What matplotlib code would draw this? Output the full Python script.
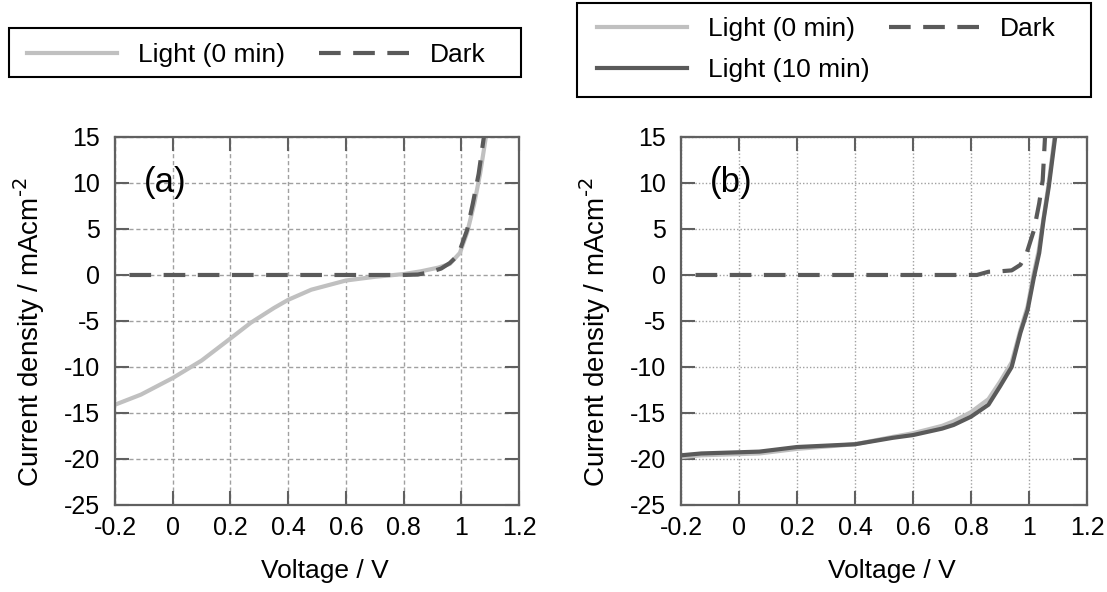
import matplotlib
matplotlib.use("Agg")
import matplotlib.pyplot as plt
from matplotlib.lines import Line2D
from matplotlib.patches import Rectangle

plt.rcParams['font.family'] = ['Liberation Sans', 'DejaVu Sans']
plt.rcParams['mathtext.default'] = 'regular'
plt.rcParams['axes.unicode_minus'] = False

# J-V curves, voltage in V, current density in mA/cm2
# panel (a)
v_a_light0 = [-0.2, -0.11, 0.0, 0.1, 0.2, 0.27, 0.35, 0.4, 0.48, 0.6, 0.7, 0.8,
              0.86, 0.92, 0.96, 0.995, 1.02, 1.045, 1.065, 1.085]
j_a_light0 = [-14.1, -13.0, -11.2, -9.3, -6.9, -5.2, -3.6, -2.7, -1.6, -0.6, -0.2, 0.1,
              0.4, 0.8, 1.2, 2.4, 4.6, 7.8, 11.0, 15.0]
v_a_dark = [-0.15, 0.0, 0.2, 0.4, 0.6, 0.8, 0.85, 0.89, 0.93, 0.96, 0.98, 0.995,
            1.02, 1.04, 1.06, 1.078]
j_a_dark = [0, 0, 0, 0, 0, 0, 0.05, 0.3, 0.7, 1.3, 1.9, 2.7,
            4.9, 7.8, 11.0, 15.0]

# panel (b)
v_b_light0 = [-0.2, -0.13, 0.07, 0.2, 0.4, 0.53, 0.6, 0.7, 0.74, 0.8, 0.86, 0.9,
              0.94, 0.97, 0.995, 1.015, 1.033, 1.05, 1.067, 1.088]
j_b_light0 = [-19.8, -19.6, -19.4, -18.9, -18.4, -17.6, -17.2, -16.4, -15.9, -14.9, -13.5, -11.6,
              -9.5, -6.0, -3.4, 0.0, 2.6, 6.2, 9.8, 15.0]
v_b_light10 = [-0.2, -0.13, 0.07, 0.2, 0.4, 0.53, 0.6, 0.7, 0.74, 0.8, 0.86, 0.9,
               0.94, 0.97, 0.995, 1.017, 1.035, 1.05, 1.068, 1.09]
j_b_light10 = [-19.6, -19.4, -19.2, -18.7, -18.4, -17.7, -17.4, -16.7, -16.3, -15.4, -14.1, -12.1,
               -10.0, -6.3, -3.8, -0.2, 2.4, 6.0, 9.6, 15.0]
v_b_dark = [-0.15, 0.0, 0.2, 0.4, 0.6, 0.82, 0.86, 0.9, 0.94, 0.97, 0.99, 1.017,
            1.035, 1.047, 1.055]
j_b_dark = [0, 0, 0, 0, 0, 0, 0.35, 0.4, 0.5, 1.1, 2.2, 4.9,
            7.8, 10.3, 15.0]

x_ticks = [-0.2, 0, 0.2, 0.4, 0.6, 0.8, 1, 1.2]
x_ticklabels = ['-0.2', '0', '0.2', '0.4', '0.6', '0.8', '1', '1.2']
y_ticks = [-25, -20, -15, -10, -5, 0, 5, 10, 15]

LIGHT = '#c0c0c0'
DARK = '#5a5a5a'
AXC = '#606060'
LW = 3.0
DASH = (5.2, 3.0)
W, H = 1107, 592

fig = plt.figure(figsize=(W / 100, H / 100), dpi=100)
ax_a = fig.add_axes([0.1039, 0.147, 0.365, 0.6216])
ax_b = fig.add_axes([0.6152, 0.147, 0.3668, 0.6216])


def style_axes(ax, grid_dashes, tag):
    ax.set_xlim(-0.2, 1.2)
    ax.set_ylim(-25, 15)
    ax.set_xticks(x_ticks)
    ax.set_xticklabels(x_ticklabels)
    ax.set_yticks(y_ticks)
    ax.tick_params(direction='in', length=10, width=1.5, color=AXC,
                   top=True, right=True, labelsize=18, pad=8)
    ax.tick_params(axis='y', pad=11)
    for s in ax.spines.values():
        s.set_color(AXC)
        s.set_linewidth(1.6)
    ax.grid(True, color='#a0a0a0', lw=1.0, dashes=grid_dashes)
    ax.set_axisbelow(True)
    ax.set_xlabel('Voltage / V', fontsize=19)
    ax.xaxis.set_label_coords(0.52, -0.148)
    ax.set_ylabel(r'Current density / mAcm$^{\text{-2}}$', fontsize=20)
    ax.yaxis.set_label_coords(-0.168, 0.47)
    ax.text(-0.1, 10, tag, fontsize=25, va='center', ha='left')


style_axes(ax_a, (3, 2), '(a)')
style_axes(ax_b, (1, 1.5), '(b)')

# panel (a)
ax_a.plot(v_a_light0, j_a_light0, color=LIGHT, lw=LW)
ax_a.plot(v_a_dark, j_a_dark, color=DARK, lw=LW, dashes=DASH)

# panel (b)
ax_b.plot(v_b_light0, j_b_light0, color=LIGHT, lw=LW)
ax_b.plot(v_b_light10, j_b_light10, color=DARK, lw=LW)
ax_b.plot(v_b_dark, j_b_dark, color=DARK, lw=LW, dashes=DASH)

h_l0 = Line2D([], [], color=LIGHT, lw=LW)
h_l10 = Line2D([], [], color=DARK, lw=LW)
h_d = Line2D([], [], color=DARK, lw=LW, dashes=DASH)

leg_kw = dict(fontsize=19, ncol=2, frameon=False, handlelength=3.4, handletextpad=0.8,
              labelspacing=0.64, borderpad=0, borderaxespad=0, loc='upper left')

fig.legend([h_l0, h_d], ['Light (0 min)', 'Dark'], columnspacing=1.3,
           bbox_to_anchor=(27 / W, 1 - 43 / H), **leg_kw)
fig.legend([h_l0, h_l10, h_d], ['Light (0 min)', 'Light (10 min)', 'Dark'],
           columnspacing=0.75, bbox_to_anchor=(597 / W, 1 - 17 / H), **leg_kw)

# legend boxes, pixel extents (x0, y0_top, x1, y1_bottom)
for x0, y0, x1, y1 in [(9, 28, 521, 77), (577, 3, 1091, 97)]:
    fig.patches.append(Rectangle((x0 / W, 1 - y1 / H), (x1 - x0) / W, (y1 - y0) / H,
                                 transform=fig.transFigure, fill=False,
                                 edgecolor='black', lw=1.5))

fig.savefig('out.png', dpi=100)
